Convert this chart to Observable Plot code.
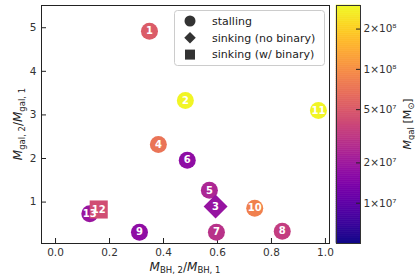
<!DOCTYPE html>
<html><head><meta charset="utf-8">
<script src="https://cdn.jsdelivr.net/npm/d3@7"></script>
<script src="https://cdn.jsdelivr.net/npm/@observablehq/plot@0.6"></script>
<style>
body{margin:0;background:#fff;}
#wrap{position:relative;width:415px;height:277px;font-family:"DejaVu Sans",sans-serif;}
#wrap svg{position:absolute;top:0;}
</style></head><body><div id="wrap"></div>
<script>
const ids      = ["1","2","3","4","5","6","7","8","9","10","11","12","13"];
const ratioBH  = [0.348,0.481,0.593,0.381,0.570,0.488,0.596,0.840,0.311,0.738,0.974,0.160,0.127];
const ratioGal = [4.92,3.33,0.90,2.32,1.27,1.96,0.31,0.33,0.31,0.86,3.10,0.83,0.73];
const mGal     = [5.2e7,2.9e8,1.85e7,7.2e7,2.4e7,1.7e7,2.9e7,3.4e7,1.7e7,8.4e7,2.9e8,4.2e7,1.9e7];
const outcome  = ["stalling","stalling","sinking (no binary)","stalling","stalling","stalling","stalling","stalling","stalling","stalling","stalling","sinking (w/ binary)","stalling"];
const outcomes = ["stalling","sinking (no binary)","sinking (w/ binary)"];
const xTicks = [0,0.2,0.4,0.6,0.8,1.0];
const yTicks = [1,2,3,4,5];
const cTicks = [1e7,2e7,5e7,1e8,2e8];
const cTickLabels = ["1×10⁷","2×10⁷","5×10⁷","1×10⁸","2×10⁸"];

const rows = ids.map((id,i)=>({id, x:ratioBH[i], y:ratioGal[i], m:mGal[i], kind:outcome[i]}));
const colorSpec = {type:"log", domain:[5e6,3e8], scheme:"plasma"};
const symbolOf = {"stalling":d3.symbolCircle, "sinking (no binary)":d3.symbolDiamond2, "sinking (w/ binary)":d3.symbolSquare};
const rOf = {"stalling":8.5, "sinking (no binary)":10.8, "sinking (w/ binary)":10.2};

const dotMarks = outcomes.map(k => Plot.dot(rows.filter(d=>d.kind===k), {x:"x", y:"y", fill:"m", symbol:symbolOf[k], r:rOf[k], stroke:null}));

const main = Plot.plot({
  width:415, height:277, marginLeft:41, marginRight:86, marginTop:5, marginBottom:34,
  style:{fontFamily:"DejaVu Sans", fontSize:"10.5px", color:"#333", background:"transparent"},
  x:{domain:[-0.052,1.015]},
  y:{domain:[0.05,5.51]},
  color:colorSpec,
  marks:[
    Plot.axisX({ticks:xTicks, tickSize:5, dy:-5, tickFormat:()=>"", label:null, stroke:"#222"}),
    Plot.axisX({ticks:xTicks, tickSize:0, tickPadding:5, tickFormat:d3.format(".1f"), label:null}),
    Plot.axisY({ticks:yTicks, tickSize:5, dx:5, tickFormat:()=>"", label:null, stroke:"#222"}),
    Plot.axisY({ticks:yTicks, tickSize:0, tickPadding:5, tickFormat:d=>String(d), label:null}),
    ...dotMarks,
    Plot.text(rows, {x:"x", y:"y", text:"id", fill:"white", fontWeight:"bold", fontSize:10}),
    Plot.frame({stroke:"#222"})
  ]
});

// ramp for colorbar
const lo = Math.log10(5e6), hi = Math.log10(3e8), N = 120;
const ramp = d3.range(N).map(i => ({y1:10**(lo+(hi-lo)*i/N), y2:10**(lo+(hi-lo)*(i+1)/N), v:10**(lo+(hi-lo)*(i+0.5)/N)}));
const cbar = Plot.plot({
  width:85, height:277, marginLeft:6, marginRight:55, marginTop:5, marginBottom:34,
  style:{fontFamily:"DejaVu Sans", fontSize:"10.5px", color:"#333", background:"transparent"},
  x:{domain:[0,1], axis:null},
  y:{type:"log", domain:[5e6,3e8]},
  color:colorSpec,
  marks:[
    Plot.rect(ramp, {x1:0, x2:1, y1:"y1", y2:"y2", fill:"v", stroke:"v", strokeWidth:0.6}),
    Plot.axisY({anchor:"right", ticks:cTicks, tickSize:5, dx:-5, tickFormat:()=>"", label:null, stroke:"#222"}),
    Plot.axisY({anchor:"right", ticks:cTicks, tickSize:0, tickPadding:3, tickFormat:d=>cTickLabels[cTicks.indexOf(d)], label:null}),
    Plot.frame({stroke:"#333"})
  ]
});
cbar.style.left = "330px";
const wrap = document.getElementById("wrap");
wrap.appendChild(main);
wrap.appendChild(cbar);

const svg = d3.select(main);
// legend
const lg = svg.append("g").attr("text-anchor","start");
lg.append("rect").attr("x",174.5).attr("y",10.5).attr("width",150).attr("height",55).attr("rx",3)
  .attr("fill","white").attr("fill-opacity",0.8).attr("stroke","#ccc");
const legSize = {"stalling":95, "sinking (no binary)":85, "sinking (w/ binary)":100};
outcomes.forEach((k,i)=>{
  const yy = 21 + i*16.8;
  lg.append("path").attr("d", d3.symbol(symbolOf[k], legSize[k])()).attr("transform",`translate(190,${yy})`).attr("fill","#333");
  lg.append("text").attr("x",212).attr("y",yy).attr("dy","0.35em").attr("font-size",11).attr("fill","#222").attr("text-anchor","start").text(k);
});
// axis titles
function title(g, parts, attrs){
  const t = g.append("text").attr("fill","#222").attr("font-size",12);
  for (const [k,v] of Object.entries(attrs)) t.attr(k,v);
  let shifted = false;
  parts.forEach(([s,type])=>{
    const sp = t.append("tspan").text(s);
    if (type==="i") sp.attr("font-style","italic");
    if (type==="sub"){ sp.attr("font-size",8.5).attr("dy", shifted?0:2.8); shifted = true; }
    else { if (shifted){ sp.attr("dy",-2.8); shifted=false; } }
  });
  return t;
}
title(svg, [["M","i"],["BH, 2","sub"],["/",""],["M","i"],["BH, 1","sub"]], {x:185, y:270.5, "text-anchor":"middle"});
title(svg, [["M","i"],["gal, 2","sub"],["/",""],["M","i"],["gal, 1","sub"]], {transform:"translate(22,124) rotate(-90)", "text-anchor":"middle"});
const ct = title(d3.select(cbar), [["M","i"],["gal","sub"],[" [M",""],["⊙","sub"],["]",""]], {transform:"translate(81,124) rotate(-90)", "text-anchor":"middle"});
ct.attr("font-size",11);
</script></body></html>
